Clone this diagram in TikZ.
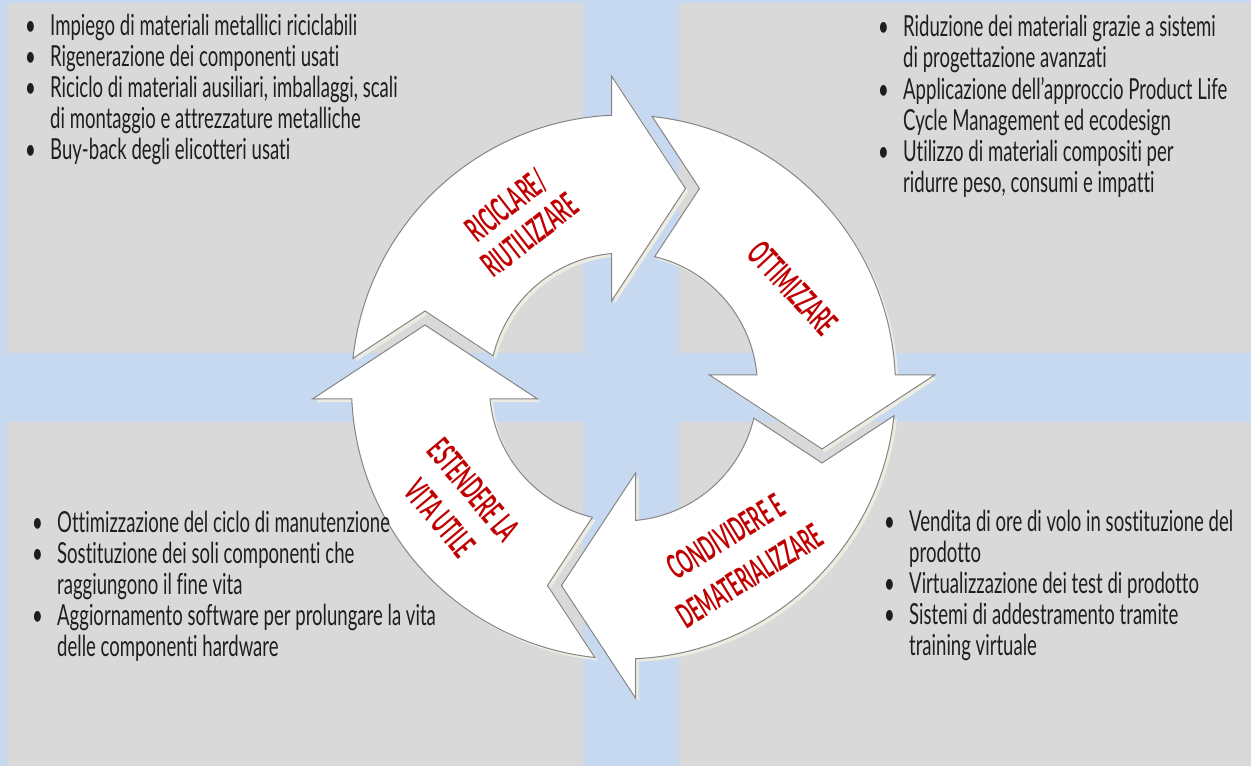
\documentclass[tikz,border=0pt]{standalone}
\usepackage{fontspec}
\setmainfont{Lato}[FakeStretch=0.64, Ligatures=NoCommon]
\newfontfamily\labelfont{Lato}[FakeStretch=0.5, Ligatures=NoCommon]
\usetikzlibrary{positioning}
\definecolor{bandblue}{HTML}{C6D9F1}
\definecolor{boxgray}{HTML}{D9D9D9}
\definecolor{labelred}{HTML}{C00000}
\definecolor{rimgray}{HTML}{858585}
\definecolor{shadecream}{HTML}{EEECE1}
\definecolor{bodytext}{HTML}{1E1E1E}
\newcommand{\itm}[1]{\makebox[25pt][l]{\textbullet}#1}
\newcommand{\cnt}[1]{\hspace*{25pt}#1}
% one arrow of the ring, tail at the left, head at the top
\newcommand{\ringpath}{(173.95:272) arc[start angle=173.95, end angle=92.53, radius=272]
  -- (-12,311) -- (62,198.5) -- (-12,86)
  -- (95.14:134) arc[start angle=95.14, end angle=166.55, radius=134]
  -- (-198.5,76) -- cycle}
\tikzset{
quadrant/.style={fill=boxgray}, % grey panels
bullets/.style={anchor=base west, inner sep=0pt, text=bodytext, font=\fontsize{29}{31}\selectfont},
ringarrow/.style={fill=white, draw=rimgray, line width=1pt, line join=miter},
arrowshade/.style={fill=shadecream},
steplabel/.style={text=labelred, align=center, inner sep=0pt, font=\labelfont\fontsize{34}{38}\selectfont\bfseries},
}
\begin{document}
\begin{tikzpicture}[x=1pt, y=1pt]
\useasboundingbox (0,0) rectangle (1251,766);
\fill[bandblue] (0,0) rectangle (1251,766);
% panels
\fill[quadrant] (7,413) rectangle (583,763);
\fill[quadrant] (679,413) rectangle (1251,763);
\fill[quadrant] (7,0) rectangle (583,344);
\fill[quadrant] (679,0) rectangle (1251,344);

% ring of arrows
\coordinate (ctr) at (623.5,379);
\foreach \rot in {0,-90,-180,-270} {
  \begin{scope}[shift={(626.5,376)}, rotate=\rot]
    \fill[arrowshade] \ringpath;
  \end{scope}
  \begin{scope}[shift={(ctr)}, rotate=\rot]
    \draw[ringarrow] \ringpath;
  \end{scope}
}

\node[steplabel, rotate=38] (ricicla) at (518,546) {RICICLARE/\\RIUTILIZZARE};
\node[steplabel, rotate=-47] (ottimizza) at (793,478) {OTTIMIZZARE};
\node[steplabel, rotate=31.5] (condividi) at (737.5,210) {CONDIVIDERE E\\[8pt]DEMATERIALIZZARE};
\node[steplabel, rotate=-50] (estendi) at (457,262) {ESTENDERE LA\\[6pt]VITA UTILE};

% bullet lists
\node[bullets] (listtl) at (25,730) {\begin{tabular}[t]{@{}l@{}}
\itm{Impiego di materiali metallici riciclabili}\\
\itm{Rigenerazione dei componenti usati}\\
\itm{Riciclo di materiali ausiliari, imballaggi, scali}\\
\cnt{di montaggio e attrezzature metalliche}\\
\itm{Buy-back degli elicotteri usati}
\end{tabular}};
\node[bullets] (listtr) at (878,729) {\begin{tabular}[t]{@{}l@{}}
\itm{Riduzione dei materiali grazie a sistemi}\\
\cnt{di progettazione avanzati}\\
\itm{Applicazione dell’approccio Product Life}\\
\cnt{Cycle Management ed ecodesign}\\
\itm{Utilizzo di materiali compositi per}\\
\cnt{ridurre peso, consumi e impatti}
\end{tabular}};
\node[bullets] (listbl) at (32,233) {\begin{tabular}[t]{@{}l@{}}
\itm{Ottimizzazione del ciclo di manutenzione}\\
\itm{Sostituzione dei soli componenti che}\\
\cnt{raggiungono il fine vita}\\
\itm{Aggiornamento software per prolungare la vita}\\
\cnt{delle componenti hardware}
\end{tabular}};
\node[bullets] (listbr) at (884,234) {\begin{tabular}[t]{@{}l@{}}
\itm{Vendita di ore di volo in sostituzione del}\\
\cnt{prodotto}\\
\itm{Virtualizzazione dei test di prodotto}\\
\itm{Sistemi di addestramento tramite}\\
\cnt{training virtuale}
\end{tabular}};
\end{tikzpicture}
\end{document}
